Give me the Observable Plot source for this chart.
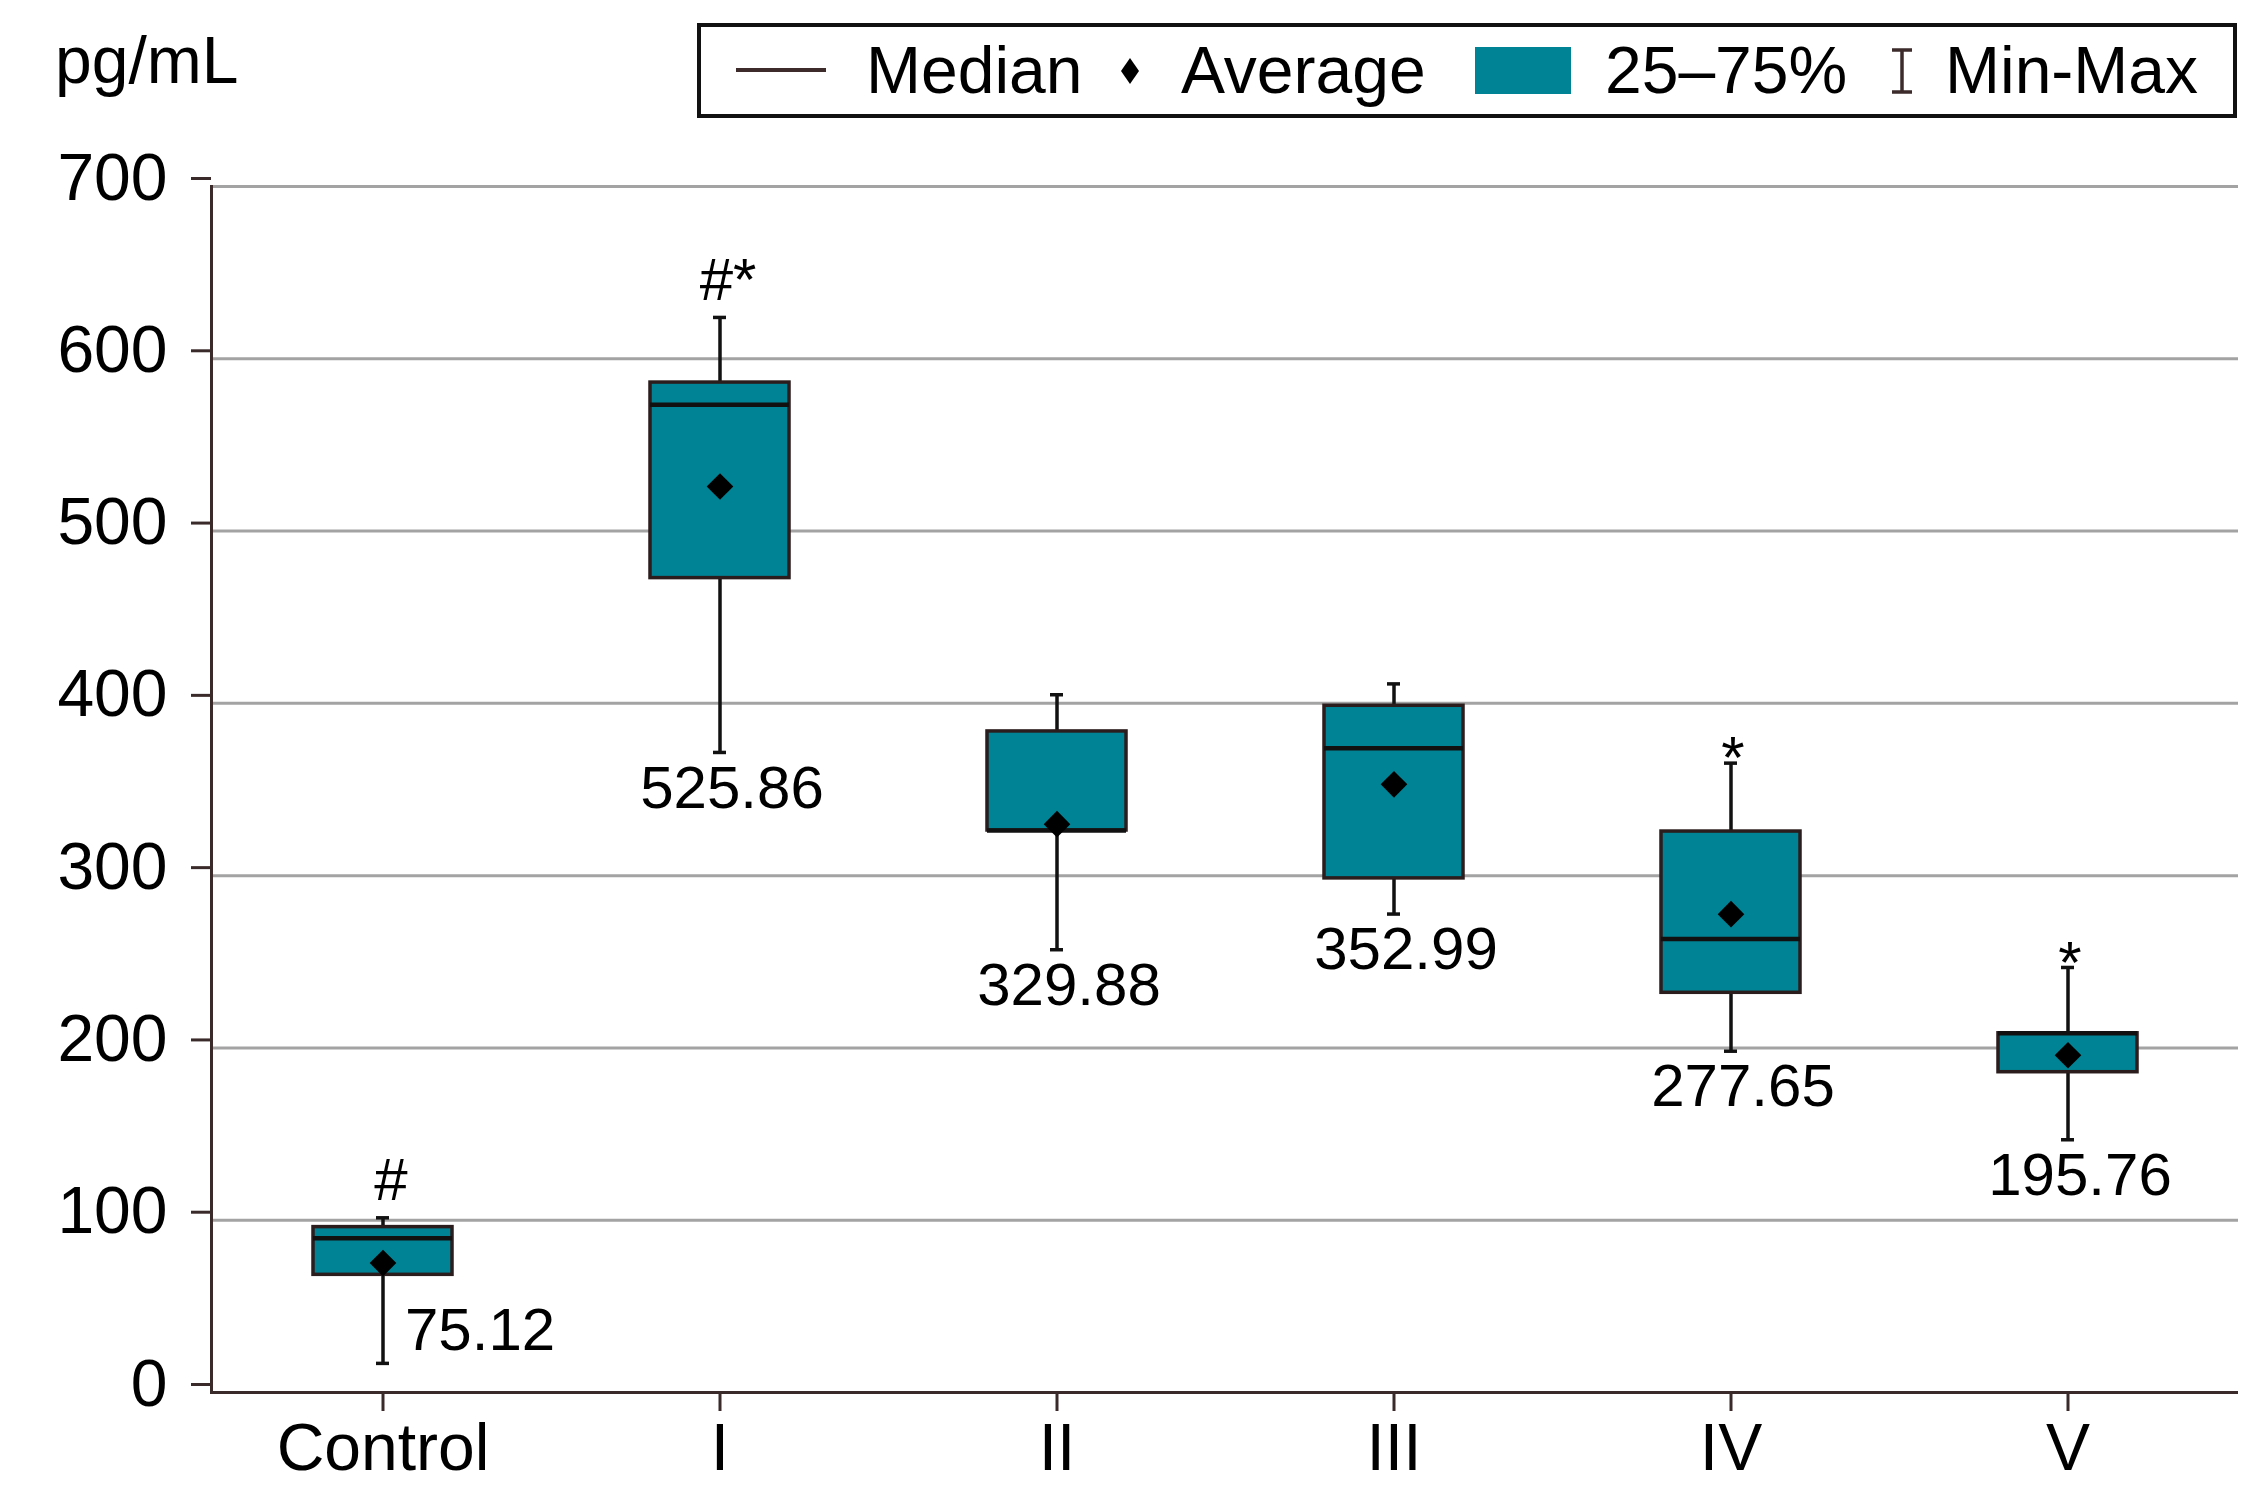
<!DOCTYPE html>
<html><head><meta charset="utf-8">
<script src="https://cdn.jsdelivr.net/npm/d3@7"></script>
<script src="https://cdn.jsdelivr.net/npm/@observablehq/plot@0.6"></script>
<style>
body{margin:0;background:#fff;font-family:"Liberation Sans",Arial,sans-serif;}
#wrap{position:relative;width:2267px;height:1498px;overflow:hidden;background:#fff}
#head{position:relative;height:130px}
.t{position:absolute;font-size:66px;line-height:1;color:#000;white-space:nowrap}
#legend{position:absolute;left:697px;top:23px;width:1540px;height:95px;border:4px solid #111;box-sizing:border-box}
#chart{position:absolute;left:0;top:130px}
</style></head><body>
<div id="wrap">
  <div id="head">
    <div class="t" style="left:55px;top:27px">pg/mL</div>
    <div id="legend"></div>
    <div style="position:absolute;left:736px;top:68px;width:90px;height:4px;background:#3d2b2b"></div>
    <div class="t" style="left:866px;top:37px">Median</div>
    <svg style="position:absolute;left:1121px;top:58px" width="18" height="26"><polygon points="9,0 18,13 9,26 0,13" fill="#000"/></svg>
    <div class="t" style="left:1181px;top:37px">Average</div>
    <div style="position:absolute;left:1475px;top:47px;width:96px;height:47px;background:#008394"></div>
    <div class="t" style="left:1605px;top:37px">25–75%</div>
    <svg style="position:absolute;left:1890px;top:48px" width="24" height="46"><path d="M2,2H22M12,2V44M2,44H22" stroke="#3d2b2b" stroke-width="3.5" fill="none"/></svg>
    <div class="t" style="left:1945px;top:37px">Min-Max</div>
  </div>
  <div id="chart"></div>
</div>
<script>
const groups = ["Control", "I", "II", "III", "IV", "V"];
const minVals = [16.9, 371.5, 257.0, 277.7, 198.1, 146.7];
const q1Vals = [68.3, 472.7, 326.2, 298.4, 232.0, 185.9];
const medianVals = [89.6, 573.3, 326.2, 374.0, 263.2, 208.5];
const q3Vals = [96.0, 586.2, 383.7, 398.6, 325.6, 208.5];
const maxVals = [101.4, 624.0, 405.0, 411.3, 365.3, 246.7];
const meanVals = [75.12, 525.86, 329.88, 352.99, 277.65, 195.76];
const meanLabels = ["75.12", "525.86", "329.88", "352.99", "277.65", "195.76"];
const sigLabels = ["#", "#*", "", "", "*", "*"];
const yTicks = [0, 100, 200, 300, 400, 500, 600, 700];

const data = groups.map((g, i) => ({
  group: g, lo: minVals[i], q1: q1Vals[i], median: medianVals[i],
  q3: q3Vals[i], hi: maxVals[i], mean: meanVals[i],
  label: meanLabels[i], sig: sigLabels[i]
}));

const AX = "#3b2a2a";
const chart = Plot.plot({
  width: 2267, height: 1368,
  marginLeft: 211, marginRight: 29, marginTop: 56, marginBottom: 106,
  style: {fontFamily: "Liberation Sans, Arial, sans-serif", fontSize: "60px", background: "white", color: "black"},
  x: {domain: groups, padding: 0, label: null},
  y: {domain: [0, 700], label: null},
  marks: [
    Plot.gridY(yTicks, {stroke: "#a3a3a3", strokeOpacity: 1, strokeWidth: 3}),
    Plot.axisY(yTicks, {tickSize: 20, tickPadding: 24, fontSize: 66, stroke: AX, strokeWidth: 3, fill: "black", dy: -8, label: null}),
    Plot.axisX({tickSize: 19, tickPadding: 12, fontSize: 66, stroke: AX, strokeWidth: 3, fill: "black", label: null}),
    Plot.frame({anchor: "left", stroke: AX, strokeWidth: 3}),
    Plot.ruleY([0], {stroke: AX, strokeWidth: 3}),
    Plot.ruleX(data, {x: "group", y1: "lo", y2: "hi", stroke: "#111", strokeWidth: 3.5}),
    Plot.tickY(data, {x: "group", y: "lo", inset: 162, stroke: "#111", strokeWidth: 3.5}),
    Plot.tickY(data, {x: "group", y: "hi", inset: 162, stroke: "#111", strokeWidth: 3.5}),
    Plot.barY(data, {x: "group", y1: "q1", y2: "q3", insetLeft: 99, insetRight: 99, fill: "#008394", fillOpacity: 1, stroke: "#2b1d1d", strokeWidth: 3.5}),
    Plot.tickY(data, {x: "group", y: "median", inset: 99, stroke: "#111", strokeWidth: 4.5}),
    Plot.dot(data, {x: "group", y: "mean", symbol: "diamond2", r: 12, fill: "black", stroke: null}),
    Plot.text(data.filter(d => d.group !== "Control"), {x: "group", y: "lo", text: "label", dx: 12, dy: 36, fontSize: 60, fill: "black"}),
    Plot.text(data.filter(d => d.group === "Control"), {x: "group", y: "lo", text: "label", textAnchor: "start", dx: 22, dy: -33, fontSize: 60, fill: "black"}),
    Plot.text(data.filter(d => d.sig.includes("#")), {x: "group", y: "hi", text: "sig", dx: 8, dy: -37, fontSize: 60, fill: "black"}),
    Plot.text(data.filter(d => d.sig === "*"), {x: "group", y: "hi", text: "sig", dx: 2, dy: -4, fontSize: 60, fill: "black"})
  ]
});
document.getElementById("chart").appendChild(chart);
</script>
</body></html>
